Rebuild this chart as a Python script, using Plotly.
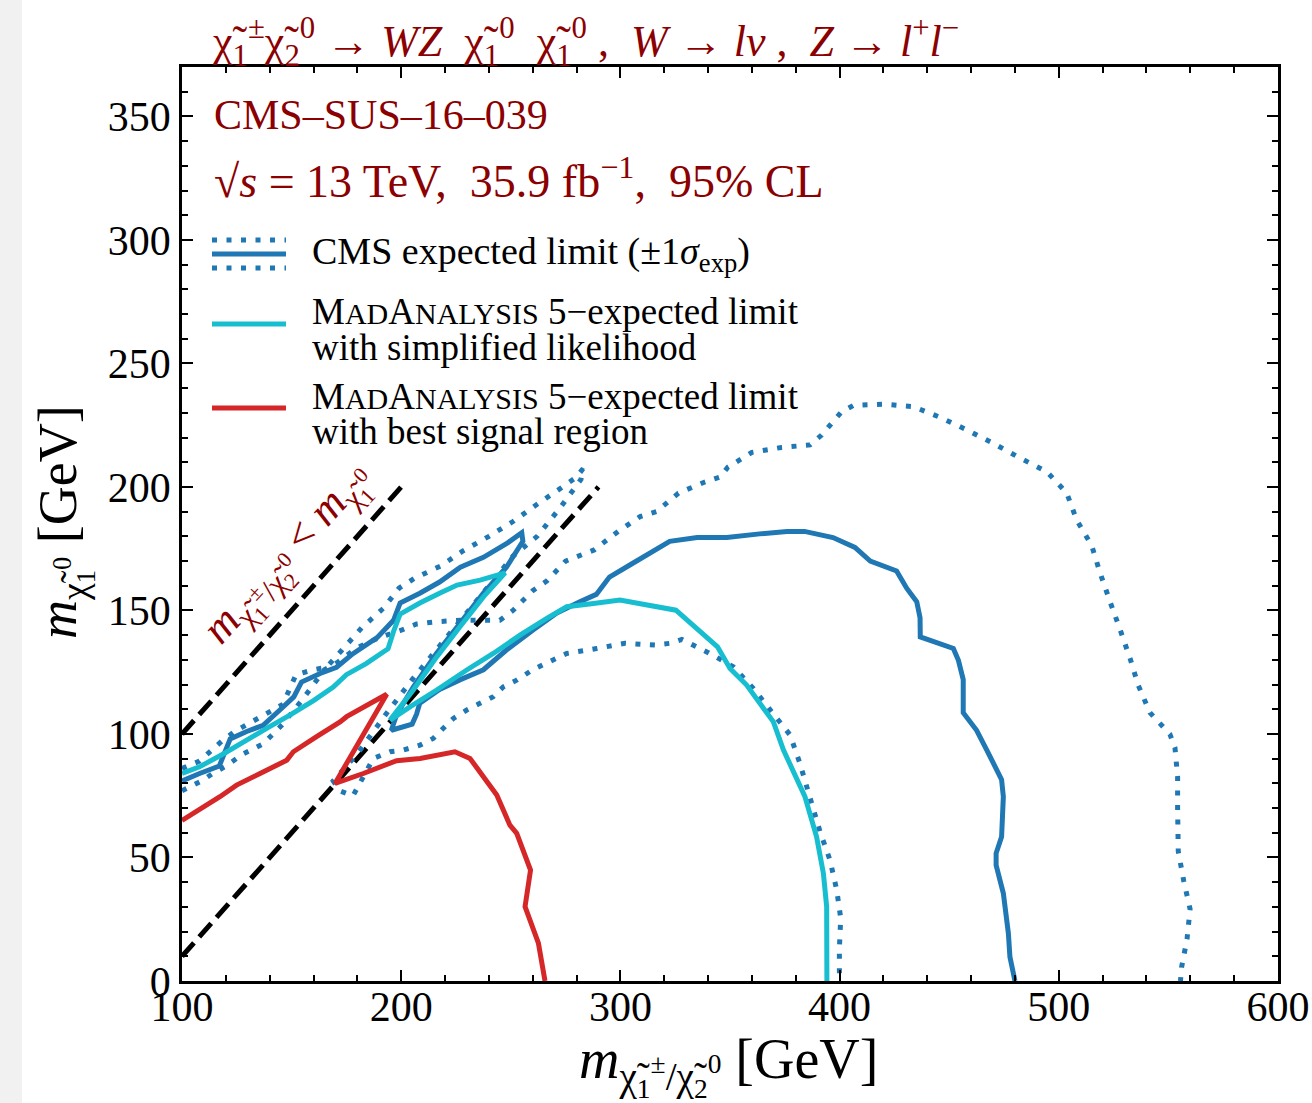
import plotly.graph_objects as go

# ---------------- data ----------------
cms_exp_x = [100, 108, 117, 122, 129.5, 137, 145, 151, 154.5, 163, 170.5, 178, 189, 196.5, 199.5, 208.5, 217.5, 227, 237.5, 248, 255, 255.5,
             248, 237.5, 227, 216, 205.5, 198, 195.5, 205, 207, 208.5, 217.5, 227, 237.5, 248, 260, 271, 281.5, 289, 295, 304.5, 322.5,
             335, 348.5, 363.5, 376, 384, 397, 407, 414, 426, 430.6, 435.2, 436.7, 436.8, 451.9, 454.2, 456.4, 456.4, 462.5, 467.1,
             473.9, 474.7, 473.9, 471.4, 471.4, 474.7, 477, 477.7, 480]
cms_exp_y = [81, 84, 87, 98, 101, 103.5, 110, 115, 121, 124.5, 127, 132.5, 139, 146, 153, 157, 161.5, 167.5, 171.5, 177, 181.5, 178,
             167.5, 157, 145, 132.5, 119, 108, 101.5, 104, 108, 112.5, 118, 122, 126, 134, 142, 149, 153.5, 156.5, 163.5, 168.5, 178,
             179.5, 179.5, 181, 182, 182, 179.5, 175.5, 170, 166, 159, 153.5, 147, 139.3, 134.6, 129.8, 122, 108.6, 101.5, 93.6,
             81.5, 74.6, 58.4, 51.7, 46.9, 35.5, 19.3, 9.8, 0]

cms_p1_x = [100, 108, 118, 124, 131, 137, 146, 152, 160, 166, 173, 182, 192, 199, 206, 218, 228, 240, 251, 262, 272, 280, 283,
            282, 272, 262, 251, 240, 228, 216, 205, 193, 180, 169, 172, 178,
            187.3, 194.9, 201, 208.6, 214.6, 219.2, 223.8, 229.9, 235.9, 242, 246.6, 252.7, 260, 267, 275.5, 289.2, 302.1, 315.8,
            322.6, 328, 340.1, 351.5, 360.6, 369, 377.4, 381.9, 385.7, 391.1, 395.6, 398.7, 400.5, 399.9, 399.9]
cms_p1_y = [86, 89, 97, 101, 104.5, 107.5, 112, 124, 126, 127, 134, 143, 151, 159, 163, 168, 174, 180, 186, 193, 199, 204, 207.5,
            203, 191, 180, 172, 160, 147, 134, 122, 108, 92, 81, 77, 75,
            90.1, 92.8, 93.5, 95.5, 98.2, 102.3, 106.3, 109.7, 112.4, 115.1, 119.1, 121.8, 126, 129, 132.6, 134.6, 136.7, 136,
            136.7, 138.3, 132.9, 127.2, 118.5, 109, 99.6, 88.1, 76.6, 60.4, 49, 36.8, 25.4, 13.2, 0]

cms_m1_x = [100, 109, 114, 120, 128, 137, 146, 155, 165, 171, 180, 190, 200, 207, 217, 227, 237, 245, 251, 260, 266.5, 275, 288,
            299, 309, 316.5, 326.5, 338.5, 345.5, 349, 360, 373.5, 386.5, 391.8, 400.9, 406.3, 420, 433.6, 445.8, 458, 470, 482.3,
            494.5, 503.6, 508.2, 515, 518.8, 523.4, 527.9, 532.5, 536.3, 541.6, 550.7, 553, 554.2, 554.2, 554.5, 557, 559.9, 558.5,
            556, 555.5]
cms_m1_y = [77, 81, 84, 87, 92, 96, 104, 114, 126, 129, 135, 139, 142, 144.5, 145.5, 146, 146, 146, 150, 158, 162, 170, 174.5,
            182, 188, 190, 197.5, 202, 204, 208, 214, 216, 217, 221, 230.4, 233, 233.5, 232.5, 228.2, 223.1, 217.7, 211.7,
            206.2, 197.6, 186.5, 176.3, 165.3, 153.5, 142.4, 130.6, 119.6, 108.6, 99.9, 94.4, 82.6, 70, 52.5, 40.5, 29.1, 17,
            5.5, 0]

ma5_sl_x = [100, 108, 119, 129.5, 140, 149, 160, 169, 175, 184, 194, 196.5, 199.5, 208.5, 217.5, 225.5, 236, 247.4,
            237.5, 226.8, 216.2, 205.5, 194.9,
            204, 216.2, 229.9, 242, 254.2, 266.4, 275.5, 287.7, 299.8, 325.3, 344.3, 350, 357.6, 369.8, 374.4, 384.2, 389.5,
            392.6, 394.1, 394.2]
ma5_sl_y = [84, 86.7, 92, 97.5, 103, 107.5, 113.5, 119, 124, 128.5, 134.5, 141.5, 148.5, 153, 157, 160.3, 162.3, 165.2,
            155.5, 143.4, 131.2, 117.8, 105.6,
            111, 117.8, 125.9, 132.6, 140, 146.8, 151.5, 152.8, 154.2, 150.1, 135.3, 126.5, 119.8, 104.9, 93.5, 74.6, 58.4,
            43.6, 30.1, 0]

ma5_bsr_x = [100, 117.3, 124.9, 135.6, 147.8, 150.8, 161.4, 172.1, 175.1, 193.4, 169.8, 182.7, 197.9, 208.6, 224.5, 231.4,
             237.5, 243.6, 249.6, 252.7, 259, 256.5, 262.6, 265.6]
ma5_bsr_y = [65, 74.6, 79.3, 84, 89.4, 92.8, 98.9, 104.9, 107, 116.1, 80, 84, 89.2, 90.1, 92.8, 90.1,
             82.7, 75.3, 63.1, 59.8, 44.9, 30.1, 15.3, 0]

# kinematic boundary lines
kin1_x = [100, 200]
kin1_y = [100, 200]
kin2_x = [100, 290]
kin2_y = [10, 200]

x_ticks = [100, 200, 300, 400, 500, 600]
y_ticks = [0, 50, 100, 150, 200, 250, 300, 350]

# ---------------- styles ----------------
BLUE = "#1f77b4"
CYAN = "#17becf"
RED = "#d62728"
DRED = "#8b0000"
FONT = "Liberation Serif"
LW = 5
DOT = "5px,9.5px"

fig = go.Figure()
fig.add_trace(go.Scatter(x=kin1_x, y=kin1_y, mode="lines", line=dict(color="black", width=LW, dash="18px,8px"), showlegend=False))
fig.add_trace(go.Scatter(x=kin2_x, y=kin2_y, mode="lines", line=dict(color="black", width=LW, dash="18px,8px"), showlegend=False))
fig.add_trace(go.Scatter(x=cms_p1_x, y=cms_p1_y, mode="lines", line=dict(color=BLUE, width=LW, dash=DOT, simplify=False), showlegend=False))
fig.add_trace(go.Scatter(x=cms_m1_x, y=cms_m1_y, mode="lines", line=dict(color=BLUE, width=LW, dash=DOT, simplify=False), showlegend=False))
fig.add_trace(go.Scatter(x=cms_exp_x, y=cms_exp_y, mode="lines", line=dict(color=BLUE, width=LW, simplify=False), showlegend=False))
fig.add_trace(go.Scatter(x=ma5_sl_x, y=ma5_sl_y, mode="lines", line=dict(color=CYAN, width=LW, simplify=False), showlegend=False))
fig.add_trace(go.Scatter(x=ma5_bsr_x, y=ma5_bsr_y, mode="lines", line=dict(color=RED, width=LW, simplify=False), showlegend=False))

axis_common = dict(
    showline=True, linecolor="black", linewidth=2.5, mirror="allticks",
    ticks="inside", ticklen=11, tickwidth=2, tickcolor="black",
    showgrid=False, zeroline=False, automargin=False,
    tickfont=dict(family=FONT, size=42, color="black"),
)
fig.update_xaxes(range=[100, 600], tickvals=x_ticks, ticktext=[str(v) for v in x_ticks], ticklabelstandoff=-13,
                 minor=dict(ticks="inside", ticklen=6, tickwidth=1.5, dtick=20, tick0=100, tickcolor="black", showgrid=False),
                 **axis_common)
fig.update_yaxes(range=[0, 370], tickvals=y_ticks, ticktext=[str(v) for v in y_ticks],
                 minor=dict(ticks="inside", ticklen=6, tickwidth=1.5, dtick=10, tick0=0, tickcolor="black", showgrid=False),
                 **axis_common)

PW, PH = 1096.0, 914.0
def px2paper(px, py):
    return (px - 182) / PW, (981 - py) / PH

shapes = []
# light grey strip at the left edge of the page
x0, _ = px2paper(0, 0)
x1, _ = px2paper(22, 0)
_, yb = px2paper(0, 1103)
_, yt = px2paper(0, 0)
shapes.append(dict(type="rect", xref="paper", yref="paper", x0=x0, x1=x1, y0=yb, y1=yt,
                   fillcolor="#f1f1f1", line=dict(width=0), layer="below"))

# legend glyphs
lx0, _ = px2paper(212, 0)
lx1, _ = px2paper(286, 0)
for py, col, dash in [(240, BLUE, DOT), (254, BLUE, "solid"), (268, BLUE, DOT), (324, CYAN, "solid"), (408, RED, "solid")]:
    _, yy = px2paper(0, py)
    shapes.append(dict(type="line", xref="paper", yref="paper", x0=lx0, x1=lx1, y0=yy, y1=yy,
                       line=dict(color=col, width=LW, dash=dash)))

ann = []
def text(px, py, s, size, color="black", xanchor="left", angle=0, italic=False):
    xx, yy = px2paper(px, py)
    ann.append(dict(xref="paper", yref="paper", x=xx, y=yy, text=s, showarrow=False, xanchor=xanchor,
                    yanchor="middle", textangle=angle,
                    font=dict(family=FONT, size=size, color=color, style="italic" if italic else "normal")))

chi = "χ\u0303"
ma5 = "M<span style='font-size:30px'>AD</span>A<span style='font-size:30px'>NALYSIS</span> 5−expected limit"

text(210, 42, chi + "<sub>1</sub><sup>±</sup>" + chi + "<sub>2</sub><sup>0</sup> → <i>WZ</i>  " + chi + "<sub>1</sub><sup>0</sup>  "
     + chi + "<sub>1</sub><sup>0</sup> ,  <i>W</i> → <i>lν</i> ,  <i>Z</i> → <i>l</i><sup>+</sup><i>l</i><sup>−</sup>", 44, DRED)
text(212, 115, "CMS–SUS–16–039", 42, DRED)
text(212, 178, "√<i>s</i> = 13 TeV,  35.9 fb<sup>−1</sup>,  95% CL", 46, DRED)
text(310, 254, "CMS expected limit (±1<i>σ</i><sub>exp</sub>)", 38)
text(310, 312, ma5, 37)
text(310, 347, "with simplified likelihood", 37)
text(310, 396, ma5, 37)
text(310, 431, "with best signal region", 37)
text(290, 556, "<i>m</i><sub>" + chi + "<sub>1</sub><sup>±</sup>/" + chi + "<sub>2</sub><sup>0</sup></sub> < <i>m</i><sub>" + chi + "<sub>1</sub><sup>0</sup></sub>",
     44, DRED, xanchor="center", angle=-48)
text(728, 1066, "<i>m</i><sub>" + chi + "<sub>1</sub><sup>±</sup>/" + chi + "<sub>2</sub><sup>0</sup></sub> [GeV]", 56, xanchor="center")
text(64, 522, "<i>m</i><sub>" + chi + "<sub>1</sub><sup>0</sup></sub> [GeV]", 54, xanchor="center", angle=-90)

fig.update_layout(
    width=1312, height=1103,
    margin=dict(l=182, r=34, t=67, b=122),
    paper_bgcolor="white", plot_bgcolor="white",
    showlegend=False, shapes=shapes, annotations=ann,
)

fig.write_html("out.html", config={"displayModeBar": False},
               post_script="document.body.style.margin='0';document.body.style.padding='0';")
